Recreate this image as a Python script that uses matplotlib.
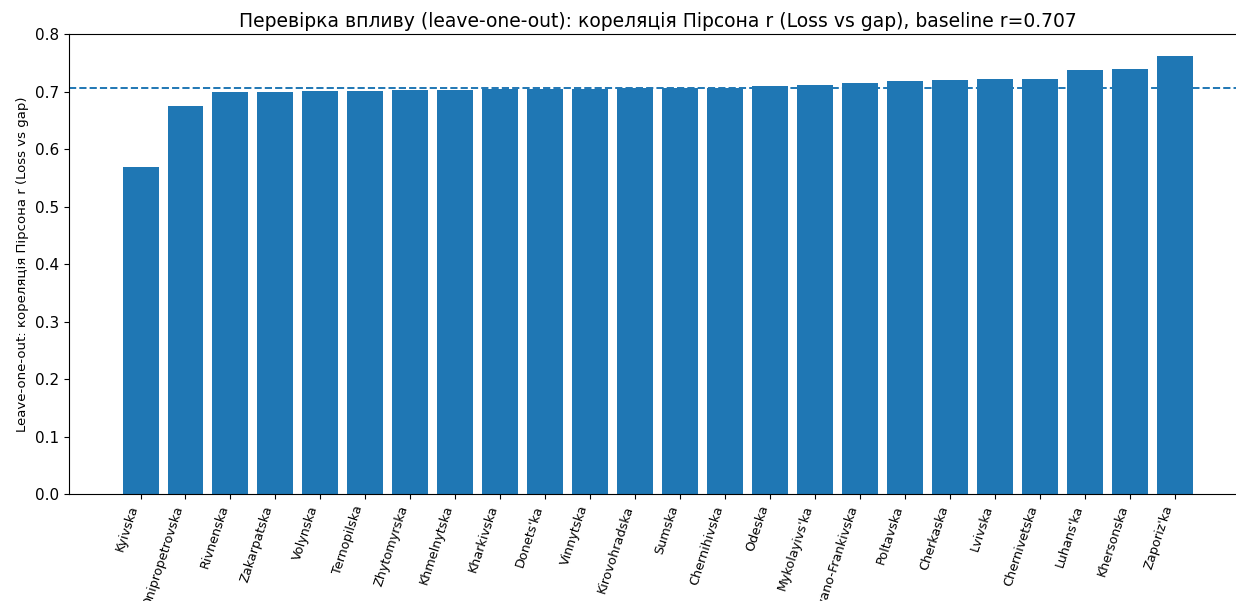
import numpy as np
from matplotlib import pyplot as plt

regions = ["Kyivska", "Dnipropetrovska", "Rivnenska", "Zakarpatska", "Volynska",
           "Ternopilska", "Zhytomyrska", "Khmelnytska", "Kharkivska", "Donets'ka",
           "Vinnytska", "Kirovohradska", "Sumska", "Chernihivska", "Odeska",
           "Mykolayivs'ka", "Ivano-Frankivska", "Poltavska", "Cherkaska", "Lvivska",
           "Chernivetska", "Luhans'ka", "Khersonska", "Zaporiz'ka"]
r_loo = [0.569, 0.675, 0.700, 0.700, 0.702,
         0.702, 0.703, 0.703, 0.704, 0.705,
         0.705, 0.706, 0.707, 0.707, 0.710,
         0.711, 0.716, 0.718, 0.720, 0.722,
         0.723, 0.737, 0.739, 0.762]
baseline = 0.707

fig = plt.figure(figsize=(12.36, 6.01), dpi=100)
ax = fig.add_axes([0.0558, 0.178, 0.953, 0.765])

x = np.arange(len(regions))
ax.bar(x, r_loo, color="#1f77b4", width=0.8)
ax.axhline(baseline, linestyle="--", color="#1f77b4", linewidth=1.4)

ax.set_ylim(0, 0.8)
ax.set_xticks(x)
ax.set_xticklabels(regions, rotation=72, ha="right", fontsize=9.2)
ax.tick_params(axis="y", labelsize=11)
ax.set_ylabel("Leave-one-out: кореляція Пірсона r (Loss vs gap)", fontsize=9.5)
ax.set_title("Перевірка впливу (leave-one-out): кореляція Пірсона r (Loss vs gap), baseline r=0.707",
             fontsize=13.5, pad=5)

fig.savefig("out.png", dpi=100)
